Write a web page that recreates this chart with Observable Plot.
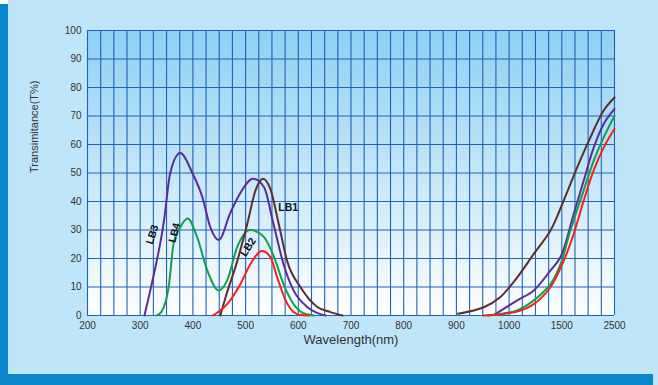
<!DOCTYPE html>
<html>
<head>
<meta charset="utf-8">
<script src="https://cdn.jsdelivr.net/npm/d3@7"></script>
<script src="https://cdn.jsdelivr.net/npm/@observablehq/plot@0.6"></script>
<style>
  html, body { margin: 0; padding: 0; }
  body { width: 658px; height: 385px; overflow: hidden; background: #bfe5f8; font-family: "Liberation Sans", Arial, sans-serif; }
  #wrap { position: relative; width: 658px; height: 385px; }
  #leftbar { position: absolute; left: 0; top: 4px; width: 8px; height: 381px; background: #0a87cb; }
  #topleft { position: absolute; left: 0; top: 0; width: 8px; height: 4px; background: #ffffff; }
  #bottombar { position: absolute; left: 0; top: 374px; width: 653px; height: 11px; background: #0a87cb; }
  #chart { position: absolute; left: 0; top: 0; }
</style>
</head>
<body>
<div id="wrap">
  <div id="leftbar"></div>
  <div id="topleft"></div>
  <div id="bottombar"></div>
  <div id="chart"></div>
</div>
<script>
// Tick labels on the (broken) wavelength axis
const xTicks = [200, 300, 400, 500, 600, 700, 800, 900, 1000, 1500, 2500];
const yTicks = [0, 10, 20, 30, 40, 50, 60, 70, 80, 90, 100];
// Vertical grid: every 25 nm up to 1000, then 125 nm to 1500, then 250 nm to 2500
const xGrid = [];
for (let v = 200; v <= 1000; v += 25) xGrid.push(v);
[1125, 1250, 1375, 1500, 1750, 2000, 2250, 2500].forEach(v => xGrid.push(v));

const seriesNames = ["LB1", "LB2", "LB3", "LB4"];
const seriesColors = ["#5a2f30", "#f42020", "#5a2c98", "#12a04c"];

// [wavelength nm, transmittance %] — visible band
const lb1Vis = [[452,0],[462,6.4],[484,19],[503,32],[519,44],[533,48],[547,44.4],[563,32],[579,19],[604,10],[636,3],[661,1.2],[684,0]];
const lb2Vis = [[438,0],[465,4],[490,11],[509,18],[531,22.6],[547,20.5],[560,13.4],[576,5.3],[591,1.2],[604,0.2],[620,0]];
const lb3Vis = [[308,0],[323,12],[345,33],[357,50],[376,57],[399,50],[418,41.5],[433,31],[449,26.5],[471,36],[490,43],[514,48],[535,45],[553,32],[572,18],[591,8.8],[617,3],[642,0.5],[652,0]];
const lb4Vis = [[331,0],[340,1.2],[354,10],[364,26],[376,31],[390,34],[408,27.5],[427,16],[449,8.8],[465,12.3],[484,24],[509,30],[535,27.5],[554,20.5],[572,11],[591,4],[610,0.8],[630,0]];
// near-infrared band
const lb1Nir = [[903,0.6],[952,2.9],[983,6.4],[1077,13.4],[1234,21.6],[1393,29.8],[1538,40.4],[1792,52],[2045,62.6],[2297,72],[2500,76.5]];
const lb2Nir = [[951,0],[1077,1.4],[1234,4],[1393,10],[1538,19.3],[1727,28.7],[1917,40.4],[2107,51],[2297,59],[2500,65.5]];
const lb3Nir = [[973,0.4],[1077,5.3],[1234,8.8],[1393,15.8],[1488,20.5],[1727,35.7],[1917,47.4],[2107,59],[2297,67.3],[2500,72.5]];
const lb4Nir = [[960,0],[1077,1.8],[1234,5.3],[1393,11],[1488,18],[1665,30],[1917,44],[2107,54.4],[2297,62.6],[2500,70]];

// Curve labels
const labelNames = ["LB1", "LB3", "LB4", "LB2"];
const labelX = [581, 323, 365, 505];
const labelY = [38, 28.4, 29, 24];
const labelRotate = [0, -72, -76, -58];

const visSegments = [["LB3", lb3Vis], ["LB4", lb4Vis], ["LB1", lb1Vis], ["LB2", lb2Vis]];
const nirSegments = [["LB1", lb1Nir], ["LB3", lb3Nir], ["LB4", lb4Nir], ["LB2", lb2Nir]];
const toRows = segs => segs.flatMap(([s, pts]) => pts.map(([w, t]) => ({series: s, w, t})));
const visTable = toRows(visSegments);
const nirTable = toRows(nirSegments);
const labels = labelNames.map((n, i) => ({n, w: labelX[i], t: labelY[i], r: labelRotate[i]}));

const W = 658, H = 385, mL = 87, mR = 44, mT = 30, mB = 70;
const innerW = W - mL - mR;

const plot = Plot.plot({
  width: W, height: H,
  marginLeft: mL, marginRight: mR, marginTop: mT, marginBottom: mB,
  style: {background: "transparent", fontFamily: "'Liberation Sans', Arial, sans-serif", fontSize: "10px", color: "#333"},
  x: {type: "linear", domain: [200, 1000, 1500, 2500], range: [mL, mL + innerW * 0.8, mL + innerW * 0.9, mL + innerW]},
  y: {domain: [0, 100]},
  color: {domain: seriesNames, range: seriesColors},
  marks: [
    Plot.frame({fill: "url(#plotgrad)", stroke: "none"}),
    Plot.ruleX(xGrid, {stroke: "#1f62b8", strokeWidth: 1.1}),
    Plot.ruleY(yTicks, {stroke: "#1f62b8", strokeWidth: 1.1}),
    Plot.axisX({ticks: xTicks, tickSize: 0, tickPadding: 6, tickFormat: d => String(d), label: null, fill: "#333", fontSize: 10}),
    Plot.axisY({ticks: yTicks, tickSize: 0, tickPadding: 6, label: null, fill: "#333", fontSize: 10}),
    Plot.line(visTable, {x: "w", y: "t", z: "series", stroke: "series", strokeWidth: 2, curve: "monotone-x"}),
    Plot.line(nirTable, {x: "w", y: "t", z: "series", stroke: "series", strokeWidth: 2, curve: "catmull-rom"}),
    Plot.text(labels, {x: "w", y: "t", text: "n", rotate: "r", fill: "#111", fontSize: 10.5, fontWeight: "bold", letterSpacing: "0.5px"}),
    Plot.text(["Wavelength(nm)"], {frameAnchor: "bottom", dy: 28, fontSize: 13, fill: "#333", text: d => d}),
    Plot.text(["Transimitance(T%)"], {frameAnchor: "left", dx: -53, rotate: -90, fontSize: 11, fill: "#333", text: d => d})
  ]
});

// gradient for plot background
const ns = "http://www.w3.org/2000/svg";
const defs = document.createElementNS(ns, "defs");
defs.innerHTML = '<linearGradient id="plotgrad" x1="0" y1="0" x2="0" y2="1">' +
  '<stop offset="0" stop-color="#8ed1f3"/><stop offset="0.45" stop-color="#bfe4f8"/><stop offset="1" stop-color="#ffffff"/></linearGradient>';
plot.insertBefore(defs, plot.firstChild);
document.getElementById("chart").appendChild(plot);
</script>
</body>
</html>
